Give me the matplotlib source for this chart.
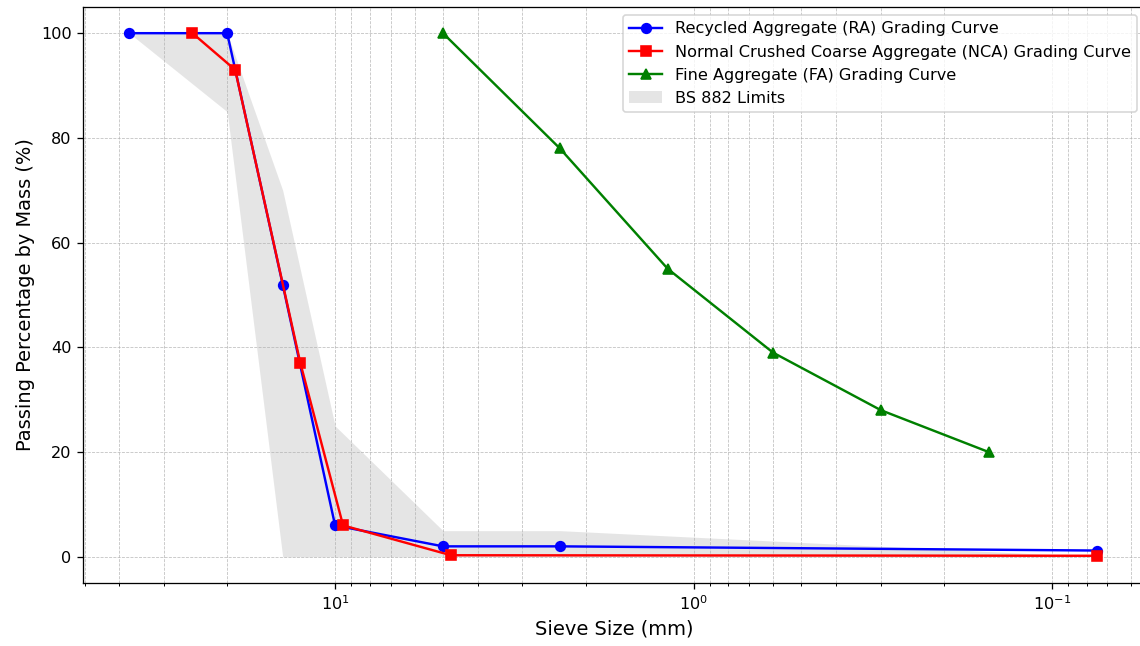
#Grading curves of recycled, crushed coarse and fine aggregates vs BS 882 limits
import numpy as np
import matplotlib.pyplot as plt

#sieve sizes (mm) and passing percentages
ra_sizes = [37.5, 20, 14, 10, 5, 2.36, 0.075]
ra_passing = [100, 100, 52, 6, 2, 2, 1.2]

nca_sizes = [25, 19, 12.5, 9.5, 4.75, 0.075]
nca_passing = [100, 93, 37, 6, 0.3, 0.2]

fa_sizes = [5, 2.36, 1.18, 0.6, 0.3, 0.15]
fa_passing = [100, 78, 55, 39, 28, 20]

#BS 882 envelope
bs_sizes = [37.5, 20, 14, 10, 5, 2.36, 0.075]
bs_lower = [100, 85, 0, 0, 0, 0, 0]
bs_upper = [100, 100, 70, 25, 5, 5, 0]

fig = plt.figure(figsize=(1140 / 116, 646 / 116), dpi=116)
# the right spine sits just past the image edge
ax = fig.add_axes([83 / 1140, 63 / 646, 1062 / 1140, 576 / 646])

ax.plot(ra_sizes, ra_passing, marker='o', color='blue',
        label='Recycled Aggregate (RA) Grading Curve')
ax.plot(nca_sizes, nca_passing, marker='s', color='red',
        label='Normal Crushed Coarse Aggregate (NCA) Grading Curve')
ax.plot(fa_sizes, fa_passing, marker='^', color='green',
        label='Fine Aggregate (FA) Grading Curve')
ax.fill_between(bs_sizes, bs_lower, bs_upper, color='gray', alpha=0.2, linewidth=0,
                label='BS 882 Limits')

ax.set_xscale('log')
ax.set_xlim(50.5, 0.055)
ax.set_xlabel('Sieve Size (mm)', fontsize=12)
ax.set_ylabel('Passing Percentage by Mass (%)', fontsize=12)
ax.grid(True, which='both', linestyle='--', linewidth=0.5, alpha=0.8)
ax.legend(loc='upper right')

plt.savefig('out.png')
